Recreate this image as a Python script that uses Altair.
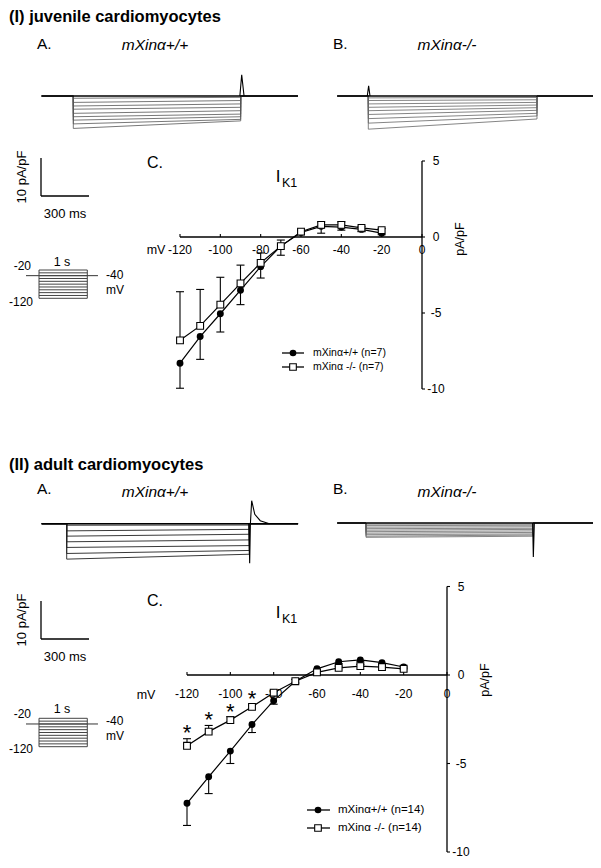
import altair as alt
import pandas as pd

FONT = "Liberation Sans"
W, H = 585, 850
M = 8

# ---------------- I-V data (mV, pA/pF) ----------------
V_MV = [-120, -110, -100, -90, -80, -70, -60, -50, -40, -30, -20]

JUV_WT = [-8.3, -6.55, -5.05, -3.5, -1.95, -0.6, 0.3, 0.7, 0.65, 0.5, 0.25]
JUV_WT_ERR = [1.65, 1.5, 1.2, 0.95, 0.75, 0.6, 0.15, 0.45, 0.2, 0.15, 0.1]
JUV_KO = [-6.8, -5.85, -4.45, -3.05, -1.7, -0.6, 0.35, 0.8, 0.8, 0.6, 0.45]
JUV_KO_ERR = [3.2, 2.4, 1.8, 1.2, 0.65, 0.4, 0.1, 0.2, 0.2, 0.1, 0.1]

AD_WT = [-7.25, -5.75, -4.3, -2.8, -1.45, -0.35, 0.35, 0.75, 0.85, 0.7, 0.45]
AD_WT_ERR = [1.25, 0.95, 0.7, 0.45, 0.2, 0.1, 0.1, 0.1, 0.1, 0.1, 0.1]
AD_KO = [-4.0, -3.2, -2.55, -1.8, -1.0, -0.35, 0.15, 0.4, 0.5, 0.45, 0.35]
AD_KO_ERR = [0.4, 0.35, 0.2, 0.1, 0.1, 0.1, 0.1, 0.1, 0.1, 0.1, 0.1]
STAR_MV = [-120, -110, -100, -90]
STAR_Y = [-3.0, -2.25, -1.8, -1.05]

X_TICKS = [-120, -100, -80, -60, -40, -20, 0]
Y_TICKS = [5, 0, -5, -10]
AXIS_X = [-120, 0]
AXIS_Y = [-10, 5]

# ---------------- current traces (ms, pA/pF) ----------------
JUV_A_T = [-189, 0, 1000, 1342]
JUV_A_ON = [-0.6, -1.7, -2.65, -3.5, -4.6, -5.5, -6.4, -7.4, -8.6]
JUV_A_OFF = [-0.35, -1.2, -2.1, -3.0, -3.9, -4.8, -5.5, -6.2, -6.6]
JUV_A_SPIKE_T = [995, 1006, 1020]
JUV_A_SPIKE_V = [0, 5.6, 0]

JUV_B_T = [-184, 0, 1000, 1332]
JUV_B_ON = [-0.5, -1.2, -2.1, -3.0, -3.9, -4.9, -6.0, -7.2, -8.8]
JUV_B_OFF = [-0.4, -1.0, -1.7, -2.4, -3.1, -3.8, -4.6, -5.3, -6.1]
JUV_B_SPIKE_T = [-6, 2, 10]
JUV_B_SPIKE_V = [0, 2.7, 0]

AD_A_T = [-137, 0, 1000, 1267]
AD_A_ON = [-0.4, -1.9, -3.3, -4.8, -6.3, -7.9, -9.4]
AD_A_OFF = [-0.35, -1.5, -2.8, -4.3, -5.8, -7.1, -8.1]
AD_A_SPIKE_T = [998, 1002, 1006, 1013, 1030, 1060, 1110]
AD_A_SPIKE_V = [0, -10.5, 0, 6.1, 2.5, 0.8, 0]

AD_B_T = [-172, 0, 1000, 1371]
AD_B_ON = [-0.3, -0.7, -1.1, -1.5, -1.9, -2.3, -2.7, -3.1, -3.5, -3.8]
AD_B_OFF = [-0.3, -0.6, -1.0, -1.4, -1.7, -2.1, -2.5, -2.9, -3.2, -3.5]
AD_B_SPIKE_T = [998, 1002, 1008]
AD_B_SPIKE_V = [0, -9.0, 0]

# ---------------- voltage protocol (ms, mV) ----------------
PROTO_STEPS = [-20, -30, -40, -50, -60, -70, -80, -90, -100, -110, -120]
PROTO_HOLD = -40
PROTO_T = [-269, 0, 1000, 1221]


# ---------------- layout helpers (page pixels) ----------------
def xdom(v0, p0, v1, p1):
    q0, q1 = p0 - M, p1 - M
    s = (q1 - q0) / (v1 - v0)
    return [v0 - q0 / s, v0 + (W - q0) / s]


def ydom(v0, p0, v1, p1):
    q0, q1 = p0 - M, p1 - M
    s = (q1 - q0) / (v1 - v0)
    return [v0 + (H - q0) / s, v0 - q0 / s]


class Panel:
    def __init__(self, xd, yd):
        self.sx = alt.Scale(domain=xd, nice=False, zero=False)
        self.sy = alt.Scale(domain=yd, nice=False, zero=False)

    def enc(self, x="x", y="y", **kw):
        return dict(x=alt.X(f"{x}:Q", scale=self.sx, axis=None),
                    y=alt.Y(f"{y}:Q", scale=self.sy, axis=None), **kw)


def ch(d):
    return alt.Chart(pd.DataFrame(d))


# ---------------- I-V panel ----------------
def iv_panel(p, wt, wt_err, ko, ko_err, lab_dy, stars=None):
    df = pd.DataFrame({
        "x": V_MV, "wt": wt, "ko": ko,
        "wte": [a - e for a, e in zip(wt, wt_err)],
        "koe": [a + e for a, e in zip(ko, ko_err)],
    })
    base = alt.Chart(df)
    L = []
    L.append(ch({"x": [AXIS_X[0]], "x2": [AXIS_X[1]], "y": [0]}).mark_rule(
        color="black", strokeWidth=1.3).encode(**p.enc(), x2="x2:Q"))
    L.append(ch({"x": [0], "y": [AXIS_Y[0]], "y2": [AXIS_Y[1]]}).mark_rule(
        color="black", strokeWidth=1.3).encode(**p.enc(), y2="y2:Q"))
    L.append(ch({"x": X_TICKS, "y": [0] * len(X_TICKS)}).mark_point(
        shape="M0,0L0,-1", size=36, filled=False, stroke="black", strokeWidth=1.1,
        opacity=1).encode(**p.enc()))
    L.append(ch({"x": [0] * len(Y_TICKS), "y": Y_TICKS}).mark_point(
        shape="M0,0L1,0", size=36, filled=False, stroke="black", strokeWidth=1.1,
        opacity=1).encode(**p.enc()))
    L.append(ch({"x": X_TICKS, "y": [0] * len(X_TICKS),
                 "t": [str(v) for v in X_TICKS]}).mark_text(
        font=FONT, fontSize=12, dy=lab_dy, baseline="middle", color="black").encode(
        **p.enc(), text="t:N"))
    L.append(ch({"x": [0] * len(Y_TICKS), "y": Y_TICKS,
                 "t": [str(v) for v in Y_TICKS]}).mark_text(
        font=FONT, fontSize=12, dx=14, baseline="middle", color="black").encode(
        **p.enc(), text="t:N"))
    L.append(base.mark_line(color="black", strokeWidth=1.2).encode(**p.enc(y="wt")))
    L.append(base.mark_line(color="black", strokeWidth=1.2).encode(**p.enc(y="ko")))
    L.append(base.mark_rule(color="black", strokeWidth=1.1).encode(
        **p.enc(y="wt"), y2="wte:Q"))
    L.append(base.mark_rule(color="black", strokeWidth=1.1).encode(
        **p.enc(y="ko"), y2="koe:Q"))
    L.append(base.mark_point(shape="M-1,0L1,0", size=64, filled=False, stroke="black",
                             strokeWidth=1.1, opacity=1).encode(**p.enc(y="wte")))
    L.append(base.mark_point(shape="M-1,0L1,0", size=64, filled=False, stroke="black",
                             strokeWidth=1.1, opacity=1).encode(**p.enc(y="koe")))
    L.append(base.mark_point(shape="circle", size=48, filled=True, color="black",
                             opacity=1).encode(**p.enc(y="wt")))
    L.append(base.mark_point(shape="square", size=46, filled=True, fill="white",
                             stroke="black", strokeWidth=1.1, opacity=1).encode(**p.enc(y="ko")))
    if stars is not None:
        L.append(ch({"x": stars[0], "y": stars[1], "t": ["*"] * len(stars[0])}).mark_text(
            font=FONT, fontSize=22, baseline="alphabetic", dy=12, color="black").encode(
            **p.enc(), text="t:N"))
    return alt.layer(*L)


# ---------------- trace panel ----------------
def trace_panel(p, T, on, off, spike_t, spike_v, color, sw):
    rows = []
    for i, (a, b) in enumerate(zip(on, off)):
        pts = [(T[0], 0), (T[1], 0), (T[1], a), (T[2], b), (T[2], 0), (T[3], 0)]
        for k, (t, v) in enumerate(pts):
            rows.append({"x": t, "y": v, "id": i, "o": k})
    df = pd.DataFrame(rows)
    L = [
        alt.Chart(df).mark_line(color=color, strokeWidth=sw).encode(
            **p.enc(), detail="id:N", order="o:Q"),
        ch({"x": [T[0]], "x2": [T[3]], "y": [0]}).mark_rule(
            color="black", strokeWidth=1.5).encode(**p.enc(), x2="x2:Q"),
        ch({"x": spike_t, "y": spike_v, "o": list(range(len(spike_t)))}).mark_line(
            color="black", strokeWidth=1.1).encode(**p.enc(), order="o:Q"),
    ]
    return alt.layer(*L)


# ---------------- protocol panel ----------------
def proto_panel(p):
    n = len(PROTO_STEPS)
    L = [
        ch({"x": [PROTO_T[0]], "x2": [PROTO_T[3]], "y": [PROTO_HOLD]}).mark_rule(
            color="#333", strokeWidth=1).encode(**p.enc(), x2="x2:Q"),
        ch({"x": [PROTO_T[1]] * n, "x2": [PROTO_T[2]] * n, "y": PROTO_STEPS}).mark_rule(
            color="#444", strokeWidth=1).encode(**p.enc(), x2="x2:Q"),
        ch({"x": [PROTO_T[1], PROTO_T[2]], "y": [min(PROTO_STEPS)] * 2,
            "y2": [max(PROTO_STEPS)] * 2}).mark_rule(
            color="#444", strokeWidth=1).encode(**p.enc(), y2="y2:Q"),
    ]
    return alt.layer(*L)


# ---------------- canvas annotations (page pixel layout) ----------------
canvas = Panel(xdom(0, 0, 100, 100), ydom(0, 0, 100, 100))

TEXTS = [
    # text, x, y, size, weight, style, align, angle
    ("(I) juvenile cardiomyocytes", 9, 17, 16.5, "bold", "normal", "left", 0),
    ("A.", 37, 44, 15.5, "normal", "normal", "left", 0),
    ("mXinα+/+", 155, 45, 15.5, "normal", "italic", "center", 0),
    ("B.", 333, 44, 15.5, "normal", "normal", "left", 0),
    ("mXinα-/-", 447, 45, 15.5, "normal", "italic", "center", 0),
    ("(II) adult cardiomyocytes", 9, 465, 16.5, "bold", "normal", "left", 0),
    ("A.", 37, 489, 15.5, "normal", "normal", "left", 0),
    ("mXinα+/+", 155, 492, 15.5, "normal", "italic", "center", 0),
    ("B.", 333, 489, 15.5, "normal", "normal", "left", 0),
    ("mXinα-/-", 447, 492, 15.5, "normal", "italic", "center", 0),
    ("10 pA/pF", 22, 177, 13, "normal", "normal", "center", 270),
    ("300 ms", 65, 214, 13, "normal", "normal", "center", 0),
    ("10 pA/pF", 22, 620, 13, "normal", "normal", "center", 270),
    ("300 ms", 65, 657, 13, "normal", "normal", "center", 0),
    ("-20", 31, 266, 12, "normal", "normal", "right", 0),
    ("1 s", 62, 262, 12.5, "normal", "normal", "center", 0),
    ("-40", 106, 275, 12, "normal", "normal", "left", 0),
    ("mV", 106, 290, 12, "normal", "normal", "left", 0),
    ("-120", 9, 302, 12, "normal", "normal", "left", 0),
    ("-20", 31, 714, 12, "normal", "normal", "right", 0),
    ("1 s", 62, 709, 12.5, "normal", "normal", "center", 0),
    ("-40", 106, 721, 12, "normal", "normal", "left", 0),
    ("mV", 106, 736, 12, "normal", "normal", "left", 0),
    ("-120", 9, 749, 12, "normal", "normal", "left", 0),
    ("C.", 147, 163, 16, "normal", "normal", "left", 0),
    ("I", 278, 177, 17, "normal", "normal", "center", 0),
    ("K1", 282, 183, 12.5, "normal", "normal", "left", 0),
    ("mV", 156, 250, 12.5, "normal", "normal", "center", 0),
    ("pA/pF", 460, 239, 12.5, "normal", "normal", "center", 270),
    ("C.", 147, 601, 16, "normal", "normal", "left", 0),
    ("I", 278, 613, 17, "normal", "normal", "center", 0),
    ("K1", 282, 619, 12.5, "normal", "normal", "left", 0),
    ("mV", 146, 695, 12.5, "normal", "normal", "center", 0),
    ("pA/pF", 485, 680, 12.5, "normal", "normal", "center", 270),
    ("mXinα+/+ (n=7)", 313, 353, 10.5, "normal", "normal", "left", 0),
    ("mXinα -/-  (n=7)", 313, 367, 10.5, "normal", "normal", "left", 0),
    ("mXinα+/+ (n=14)", 338, 810, 11.5, "normal", "normal", "left", 0),
    ("mXinα -/-  (n=14)", 338, 828, 11.5, "normal", "normal", "left", 0),
]

SEGMENTS = [  # x, y, x2, y2 (page px): scale bars and legend lines
    (41, 158, 41, 196), (41, 196, 89, 196),
    (41, 601, 41, 639), (41, 639, 89, 639),
    (282, 353, 304, 353), (282, 367, 304, 367),
    (307, 810, 330, 810), (307, 828, 330, 828),
]
LEG_CIRCLES = [(293, 353), (318, 810)]
LEG_SQUARES = [(293, 367), (318, 828)]

canvas_layers = []
for (t, x, y, s, w, st, al, an) in TEXTS:
    canvas_layers.append(ch({"x": [x], "y": [y], "t": [t]}).mark_text(
        font=FONT, fontSize=s, fontWeight=w, fontStyle=st, align=al, angle=an,
        baseline="middle", color="black").encode(**canvas.enc(), text="t:N"))
canvas_layers.append(ch({
    "x": [s[0] for s in SEGMENTS], "y": [s[1] for s in SEGMENTS],
    "x2": [s[2] for s in SEGMENTS], "y2": [s[3] for s in SEGMENTS]}).mark_rule(
    color="black", strokeWidth=1.3).encode(**canvas.enc(), x2="x2:Q", y2="y2:Q"))
canvas_layers.append(ch({"x": [c[0] for c in LEG_CIRCLES], "y": [c[1] for c in LEG_CIRCLES]}).mark_point(
    shape="circle", size=44, filled=True, color="black", opacity=1).encode(**canvas.enc()))
canvas_layers.append(ch({"x": [c[0] for c in LEG_SQUARES], "y": [c[1] for c in LEG_SQUARES]}).mark_point(
    shape="square", size=44, filled=True, fill="white", stroke="black", strokeWidth=1.1,
    opacity=1).encode(**canvas.enc()))
canvas_chart = alt.layer(*canvas_layers)

# ---------------- panels placed by pixel anchors ----------------
iv_top = Panel(xdom(-120, 180, 0, 422), ydom(0, 237, -10, 389))
iv_bot = Panel(xdom(-120, 187, 0, 447), ydom(0, 675, -10, 852))

tr_ja = Panel(xdom(0, 73.3, 1000, 240.7), ydom(0, 96, -10, 133.7))
tr_jb = Panel(xdom(0, 368.3, 1000, 537), ydom(0, 96, -10, 133.7))
tr_aa = Panel(xdom(0, 66.7, 1000, 249.3), ydom(0, 523.7, -10, 561.4))
tr_ab = Panel(xdom(0, 366, 1000, 533), ydom(0, 523, -10, 560.7))

pr_top = Panel(xdom(0, 39, 1000, 87.3), ydom(-20, 270, -120, 298.3))
pr_bot = Panel(xdom(0, 39, 1000, 87.3), ydom(-20, 718.3, -120, 746.7))

chart = alt.layer(
    canvas_chart,
    trace_panel(tr_ja, JUV_A_T, JUV_A_ON, JUV_A_OFF, JUV_A_SPIKE_T, JUV_A_SPIKE_V, "#555", 0.8),
    trace_panel(tr_jb, JUV_B_T, JUV_B_ON, JUV_B_OFF, JUV_B_SPIKE_T, JUV_B_SPIKE_V, "#666", 0.8),
    trace_panel(tr_aa, AD_A_T, AD_A_ON, AD_A_OFF, AD_A_SPIKE_T, AD_A_SPIKE_V, "#222", 0.9),
    trace_panel(tr_ab, AD_B_T, AD_B_ON, AD_B_OFF, AD_B_SPIKE_T, AD_B_SPIKE_V, "#666", 0.8),
    proto_panel(pr_top),
    proto_panel(pr_bot),
    iv_panel(iv_top, JUV_WT, JUV_WT_ERR, JUV_KO, JUV_KO_ERR, 13),
    iv_panel(iv_bot, AD_WT, AD_WT_ERR, AD_KO, AD_KO_ERR, 19, (STAR_MV, STAR_Y)),
).resolve_scale(x="independent", y="independent").properties(
    width=W, height=H, padding=0, autosize=alt.AutoSizeParams(type="none"),
    background="white",
).configure_view(stroke=None)

chart.save("out.html", embed_options={"renderer": "svg", "actions": False})
